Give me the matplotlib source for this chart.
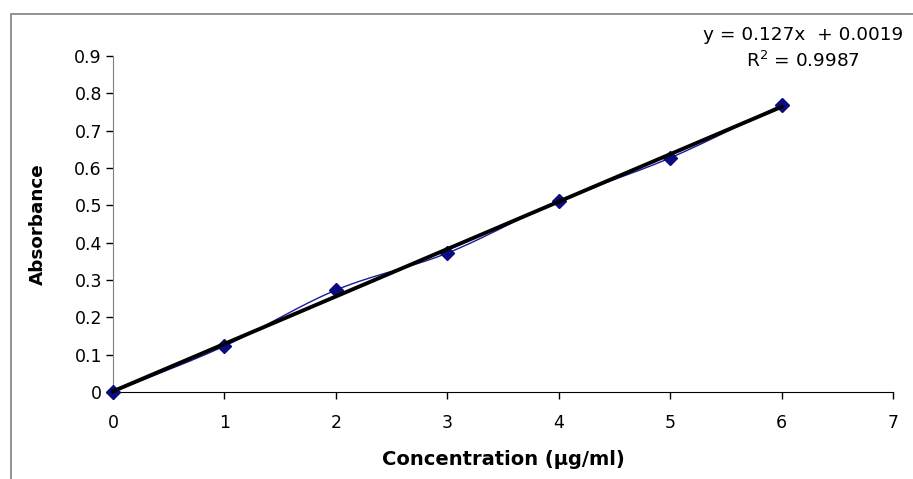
import numpy as np
import matplotlib
matplotlib.use("Agg")
import matplotlib.pyplot as plt
from matplotlib.patches import Rectangle

plt.rcParams["font.family"] = ["DejaVu Sans"]

# calibration readings
conc = [0, 1, 2, 3, 4, 5, 6]
absorbance = [0.0, 0.123, 0.273, 0.372, 0.512, 0.627, 0.769]

# linear trendline as reported
slope = 0.127
intercept = 0.0019
r_squared = 0.9987

x_ticks = [0, 1, 2, 3, 4, 5, 6, 7]
y_ticks = [0, 0.1, 0.2, 0.3, 0.4, 0.5, 0.6, 0.7, 0.8, 0.9]


def smooth_curve(xs, ys, steps=30):
    # Catmull-Rom style smoothing between the measured points
    xs = np.asarray(xs, float)
    ys = np.asarray(ys, float)
    px = np.concatenate([[2 * xs[0] - xs[1]], xs, [2 * xs[-1] - xs[-2]]])
    py = np.concatenate([[2 * ys[0] - ys[1]], ys, [2 * ys[-1] - ys[-2]]])
    out_x, out_y = [], []
    t = np.linspace(0, 1, steps)
    for i in range(1, len(px) - 2):
        for arr, out in ((px, out_x), (py, out_y)):
            p0, p1, p2, p3 = arr[i - 1], arr[i], arr[i + 1], arr[i + 2]
            seg = 0.5 * ((2 * p1) + (-p0 + p2) * t
                         + (2 * p0 - 5 * p1 + 4 * p2 - p3) * t ** 2
                         + (-p0 + 3 * p1 - 3 * p2 + p3) * t ** 3)
            out.extend(seg)
    return np.array(out_x), np.array(out_y)


fig = plt.figure(figsize=(9.13, 4.79), dpi=100)
fig.patch.set_facecolor("white")

# chart area frame
fig.patches.append(Rectangle((11 / 913, -0.05), 1.2, 1 - 14 / 479 + 0.05,
                             transform=fig.transFigure, fill=False,
                             edgecolor="#808080", linewidth=1.2))

ax = fig.add_axes([113 / 913, 1 - 392 / 479, 780 / 913, 336 / 479])
ax.set_xlim(0, 7)
ax.set_ylim(0, 0.9)

sx, sy = smooth_curve(conc, absorbance)
ax.plot(sx, sy, color="#1a1aa0", linewidth=1.0, zorder=2)
ax.plot(conc, absorbance, linestyle="none", marker="D", markersize=7.5,
        color="#0b0b80", zorder=3, clip_on=False)

fit_x = np.array([conc[0], conc[-1]])
ax.plot(fit_x, slope * fit_x + intercept, color="black", linewidth=2.8,
        zorder=4, clip_on=False)

ax.set_xticks(x_ticks)
ax.set_xticklabels([str(v) for v in x_ticks])
ax.set_yticks(y_ticks)
ax.set_yticklabels(["0"] + [f"{v:.1f}" for v in y_ticks[1:]])
ax.tick_params(axis="both", direction="out", length=5, width=1,
               labelsize=12.5, colors="black")
ax.tick_params(axis="x", pad=11)
ax.tick_params(axis="y", pad=3)

for side in ("top", "right"):
    ax.spines[side].set_visible(False)
ax.spines["left"].set_color("#808080")
ax.spines["bottom"].set_color("black")

ax.set_xlabel("Concentration (µg/ml)", fontsize=14, fontweight="bold",
              labelpad=13)
ax.set_ylabel("Absorbance", fontsize=13.2, fontweight="bold", labelpad=20)

fig.text(803 / 913, 1 - 35 / 479, f"y = {slope}x  + {intercept}",
         ha="center", va="center", fontsize=13.3)
fig.text(803 / 913, 1 - 61 / 479, f"R$^{{2}}$ = {r_squared}",
         ha="center", va="center", fontsize=13.3)

fig.savefig("out.png", dpi=100)
